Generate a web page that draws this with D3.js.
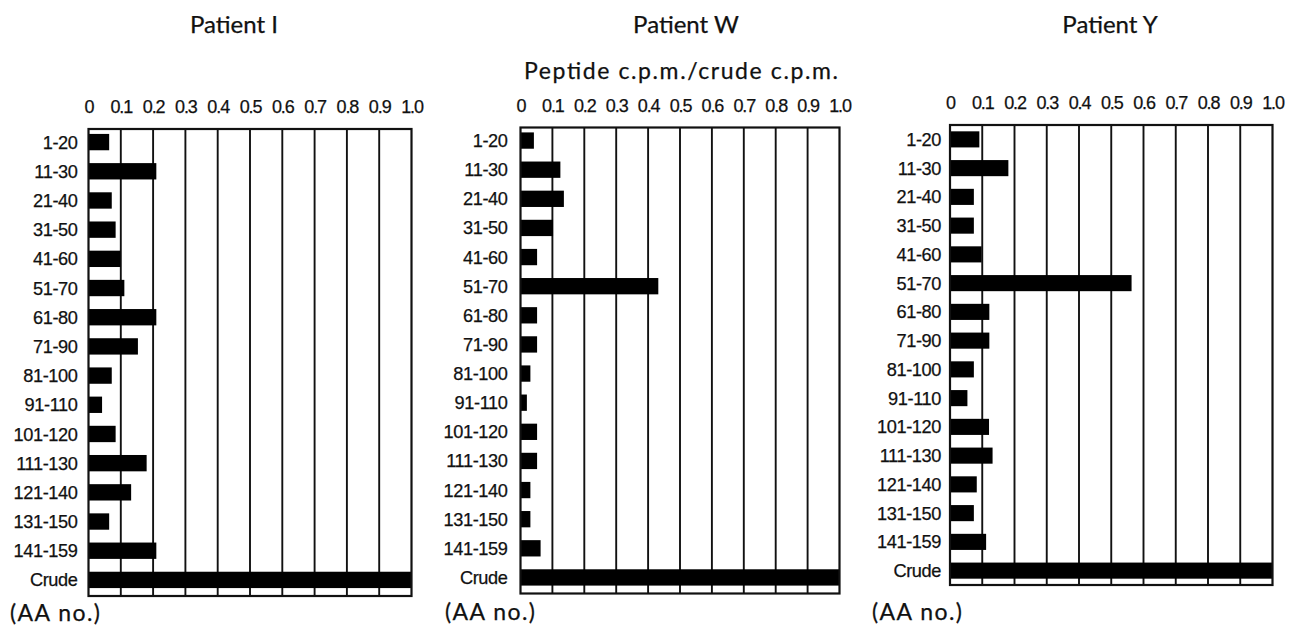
<!DOCTYPE html>
<html>
<head>
<meta charset="utf-8">
<script src="https://cdn.jsdelivr.net/npm/d3@7"></script>
<style>
  html, body { margin: 0; padding: 0; background: #fff; }
  svg { display: block; }
  .title { font-family: Lato, "Noto Sans", sans-serif; fill: #111; stroke: #111; stroke-width: 0.25; }
  .lab { font-family: "Liberation Sans", Arial, sans-serif; fill: #111; stroke: #111; stroke-width: 0.25; }
</style>
</head>
<body>
<svg id="chart" width="1294" height="627"></svg>
<script>
// Peptide fragments (amino-acid ranges) plus the crude preparation
const categories = ["1-20", "11-30", "21-40", "31-50", "41-60", "51-70", "61-80", "71-90",
  "81-100", "91-110", "101-120", "111-130", "121-140", "131-150", "141-159", "Crude"];

// Peptide c.p.m. / crude c.p.m. for each patient
const patientI = [0.064, 0.21, 0.072, 0.084, 0.099, 0.111, 0.21, 0.153,
  0.072, 0.042, 0.084, 0.18, 0.132, 0.064, 0.21, 1.0];
const patientW = [0.042, 0.125, 0.136, 0.102, 0.052, 0.432, 0.052, 0.052,
  0.031, 0.02, 0.052, 0.052, 0.031, 0.031, 0.063, 1.0];
const patientY = [0.091, 0.181, 0.074, 0.074, 0.098, 0.563, 0.122, 0.122,
  0.074, 0.054, 0.121, 0.132, 0.083, 0.074, 0.112, 1.0];

const tickValues = [0, 0.1, 0.2, 0.3, 0.4, 0.5, 0.6, 0.7, 0.8, 0.9, 1.0];
const tickLabels = ["0", "0.1", "0.2", "0.3", "0.4", "0.5", "0.6", "0.7", "0.8", "0.9", "1.0"];

const panelTitles = ["Patient I", "Patient W", "Patient Y"];
const axisTitle = "Peptide c.p.m./crude c.p.m.";
const footLabel = "(AA no.)";

// Frame geometry of each panel
const panels = [
  { values: patientI, left: 88.5, right: 411.5, top: 129, bottom: 596, dy: -1.5, titleX: 234, labGap: 11, footX: 10, footY: 621 },
  { values: patientW, left: 520.5, right: 839.5, top: 127.5, bottom: 593.5, dy: -1.5, titleX: 686, labGap: 13, footX: 445, footY: 620 },
  { values: patientY, left: 950, right: 1272.5, top: 125, bottom: 585, dy: 0, titleX: 1110, labGap: 9, footX: 872, footY: 620 }
];

const svg = d3.select("#chart");

panels.forEach((p, i) => {
  const g = svg.append("g");
  const x = d3.scaleLinear().domain([0, 1]).range([p.left, p.right]);
  const y = d3.scaleBand().domain(categories)
    .range([p.top + p.dy, p.bottom + p.dy]).paddingInner(0.44).paddingOuter(0.22);

  // vertical grid lines at each tenth
  g.selectAll("line.grid").data(tickValues.slice(1, -1)).join("line")
    .attr("class", "grid")
    .attr("x1", d => x(d)).attr("x2", d => x(d))
    .attr("y1", p.top).attr("y2", p.bottom)
    .attr("stroke", "#111").attr("stroke-width", 1.9);

  // bars
  g.selectAll("rect.bar").data(p.values).join("rect")
    .attr("class", "bar")
    .attr("x", x(0))
    .attr("y", (d, j) => y(categories[j]))
    .attr("width", d => x(d) - x(0))
    .attr("height", y.bandwidth())
    .attr("fill", "#000");

  // frame
  g.append("rect")
    .attr("x", p.left).attr("y", p.top)
    .attr("width", p.right - p.left).attr("height", p.bottom - p.top)
    .attr("fill", "none").attr("stroke", "#111").attr("stroke-width", 2.2);

  // top axis labels
  const axis = d3.axisTop(x).tickValues(tickValues)
    .tickFormat((d, j) => tickLabels[j]).tickSize(0).tickPadding(0);
  const ax = g.append("g").attr("transform", `translate(0,${p.top - 16})`).call(axis);
  ax.select(".domain").remove();
  ax.selectAll("text").attr("class", "lab")
    .attr("font-size", 18).attr("letter-spacing", -1.1)
    .attr("font-family", "'Liberation Sans', Arial, sans-serif").attr("fill", "#111");

  // category labels
  g.selectAll("text.cat").data(categories).join("text")
    .attr("class", "lab cat")
    .attr("x", p.left - p.labGap)
    .attr("y", d => y(d) + y.bandwidth() / 2)
    .attr("dy", "0.36em")
    .attr("text-anchor", "end")
    .attr("font-size", 18.2)
    .attr("letter-spacing", -0.4)
    .text(d => d);

  // panel title
  g.append("text").attr("class", "title")
    .attr("x", p.titleX).attr("y", 33)
    .attr("text-anchor", "middle").attr("font-size", 24)
    .text(panelTitles[i]);

  // footer
  g.append("text").attr("class", "title")
    .attr("x", p.footX).attr("y", p.footY)
    .attr("font-size", 23)
    .attr("textLength", 90).attr("lengthAdjust", "spacing")
    .text(footLabel);

  if (i === 1) {
    g.append("text").attr("class", "title")
      .attr("x", (p.left + p.right) / 2 + 1).attr("y", 79)
      .attr("text-anchor", "middle").attr("font-size", 23)
      .attr("textLength", 314).attr("lengthAdjust", "spacing")
      .text(axisTitle);
  }
});
</script>
</body>
</html>
